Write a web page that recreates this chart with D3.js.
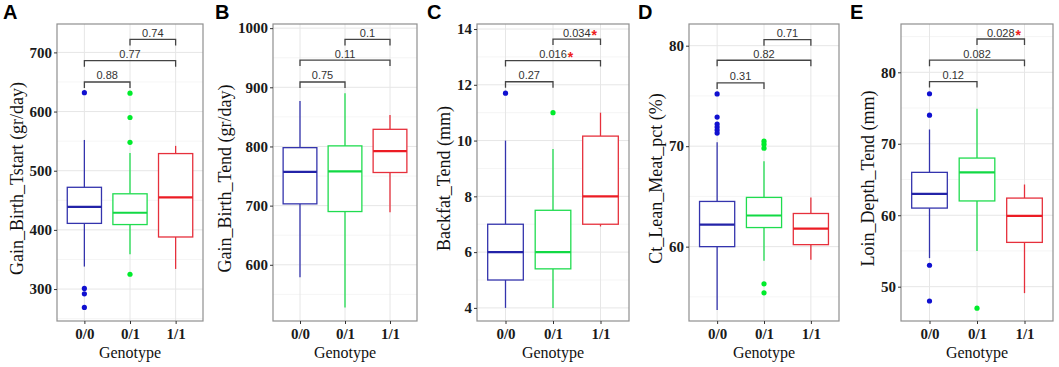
<!DOCTYPE html>
<html>
<head>
<meta charset="utf-8">
<script src="https://cdn.jsdelivr.net/npm/d3@7"></script>
<style>
  body { margin: 0; background: #fff; }
  svg { display: block; }
</style>
</head>
<body>
<div id="graphic"></div>
<script>
// data
const genotypes = ["0/0", "0/1", "1/1"];
const letters = ["A", "B", "C", "D", "E"];
const yTitles = ["Gain_Birth_Tstart (gr/day)", "Gain_Birth_Tend (gr/day)", "Backfat_Tend (mm)",
    "Ct_Lean_Meat_pct (%)", "Loin_Depth_Tend (mm)"];
const yTicks = [[300, 400, 500, 600, 700], [600, 700, 800, 900, 1000], [4, 6, 8, 10, 12, 14],
    [60, 70, 80], [50, 60, 70, 80]];
const yDomains = [[246, 748], [505, 1007], [3.53, 14.18], [52.6, 82.16], [45.2, 86.76]];

// [lower whisker, Q1, median, Q3, upper whisker] per genotype
const statsA = [[338, 411, 439, 472, 552], [359, 409, 429, 461, 530], [334, 388, 455, 529, 542]];
const statsB = [[579, 703, 757, 798, 877], [528, 690, 758, 801, 890], [689, 756, 792, 829, 853]];
const statsC = [[4.0, 5.0, 6.0, 7.0, 10.0], [4.0, 5.4, 6.0, 7.5, 9.7], [6.92, 7.0, 8.0, 10.16, 11.0]];
const statsD = [[53.7, 60.0, 62.2, 64.5, 70.4], [58.6, 61.9, 63.1, 64.9, 68.5], [58.7, 60.2, 61.8, 63.3, 64.9]];
const statsE = [[54, 61, 63, 66, 72], [55, 62, 66, 68, 74.9], [49.1, 56.2, 59.9, 62.4, 64.3]];

const outliersA = [[632, 301, 292, 269], [631, 590, 548, 325], []];
const outliersB = [[], [], []];
const outliersC = [[11.7], [11.0], []];
const outliersD = [[75.2, 72.9, 72.2, 71.9, 71.6, 71.3], [70.5, 70.2, 69.8, 56.3, 55.4], []];
const outliersE = [[77, 74, 53, 48], [47], []];

const comparisons = [[0, 1], [0, 2], [1, 2]];
const pLabels = [["0.88", "0.77", "0.74"], ["0.75", "0.11", "0.1"], ["0.27", "0.016", "0.034"],
    ["0.31", "0.82", "0.71"], ["0.12", "0.082", "0.028"]];
const bracketY = [[650, 686, 722], [909, 946, 981], [12.11, 12.87, 13.64],
    [76.3, 78.55, 80.6], [78.7, 81.7, 84.66]];

const allStats = [statsA, statsB, statsC, statsD, statsE];
const allOutliers = [outliersA, outliersB, outliersC, outliersD, outliersE];

// layout
const W = 1059, H = 367;
const panelX = [0, 212, 424, 635, 847];
const frameLeft = [57, 273, 477, 689, 901];
const frameRight = [203, 417, 629, 839, 1053];
const plotTop = 24, plotBottom = 321;

const boxColor = ["#3434ad", "#1fdc4f", "#e6303c"];
const medColor = ["#2323a8", "#12d944", "#ec1c24"];
const dotColor = ["#1010d0", "#00ec2c", "#ee1111"];

const serif = "'Liberation Serif', 'Times New Roman', serif";
const sans = "'Liberation Sans', Arial, sans-serif";

const svg = d3.select("#graphic")
    .append("svg")
    .attr("width", W)
    .attr("height", H);

allStats.forEach(function (stats, i) {
    const g = svg.append("g");
    const x = d3.scalePoint()
        .domain(genotypes)
        .range([frameLeft[i], frameRight[i]])
        .padding(0.6);
    const y = d3.scaleLinear()
        .domain(yDomains[i])
        .range([plotBottom, plotTop]);
    const boxW = x.step() * 0.75;

    // grid
    const ticks = yTicks[i];
    const half = (ticks[1] - ticks[0]) / 2;
    const minor = [ticks[0] - half].concat(ticks.map(t => t + half))
        .filter(v => v > yDomains[i][0] && v < yDomains[i][1]);
    g.selectAll(".minor").data(minor).join("line")
        .attr("x1", frameLeft[i]).attr("x2", frameRight[i])
        .attr("y1", d => y(d)).attr("y2", d => y(d))
        .attr("stroke", "#f3f3f3").attr("stroke-width", 0.8);
    g.selectAll(".major").data(ticks).join("line")
        .attr("x1", frameLeft[i]).attr("x2", frameRight[i])
        .attr("y1", d => y(d)).attr("y2", d => y(d))
        .attr("stroke", "#e6e6e6").attr("stroke-width", 1);
    g.selectAll(".vgrid").data(genotypes).join("line")
        .attr("x1", d => x(d)).attr("x2", d => x(d))
        .attr("y1", plotTop).attr("y2", plotBottom)
        .attr("stroke", "#e6e6e6").attr("stroke-width", 1);

    // boxes
    stats.forEach(function (s, j) {
        const cx = x(genotypes[j]);
        g.append("line")
            .attr("x1", cx).attr("x2", cx)
            .attr("y1", y(s[3])).attr("y2", y(s[4]))
            .attr("stroke", boxColor[j]).attr("stroke-width", 1.3);
        g.append("line")
            .attr("x1", cx).attr("x2", cx)
            .attr("y1", y(s[1])).attr("y2", y(s[0]))
            .attr("stroke", boxColor[j]).attr("stroke-width", 1.3);
        g.append("rect")
            .attr("x", cx - boxW / 2).attr("width", boxW)
            .attr("y", y(s[3])).attr("height", y(s[1]) - y(s[3]))
            .attr("fill", "white")
            .attr("stroke", boxColor[j]).attr("stroke-width", 1.3);
        g.append("line")
            .attr("x1", cx - boxW / 2).attr("x2", cx + boxW / 2)
            .attr("y1", y(s[2])).attr("y2", y(s[2]))
            .attr("stroke", medColor[j]).attr("stroke-width", 2.2);
        g.selectAll(null).data(allOutliers[i][j]).join("circle")
            .attr("cx", cx).attr("cy", d => y(d))
            .attr("r", 2.6)
            .attr("fill", dotColor[j]);
    });

    // frame
    g.append("rect")
        .attr("x", frameLeft[i]).attr("y", plotTop)
        .attr("width", frameRight[i] - frameLeft[i]).attr("height", plotBottom - plotTop)
        .attr("fill", "none").attr("stroke", "#8f8f8f").attr("stroke-width", 1.2);

    // axes
    const yAxis = g.append("g")
        .attr("transform", `translate(${frameLeft[i]},0)`)
        .call(d3.axisLeft(y).tickValues(ticks).tickFormat(d3.format("d")).tickSize(3).tickPadding(2));
    const xAxis = g.append("g")
        .attr("transform", `translate(0,${plotBottom})`)
        .call(d3.axisBottom(x).tickSize(3).tickPadding(4));
    [yAxis, xAxis].forEach(function (a) {
        a.select(".domain").remove();
        a.selectAll(".tick line").attr("stroke", "#333");
        a.selectAll("text")
            .style("font-family", serif)
            .style("font-weight", "bold")
            .style("font-size", "15px")
            .attr("fill", "#1a1a1a");
    });
    xAxis.selectAll("text").attr("dy", "0.75em");

    const labelLeft = yAxis.node().getBBox().x + frameLeft[i];
    g.append("text")
        .attr("transform", `translate(${labelLeft - 7},${(plotTop + plotBottom) / 2 + 6})rotate(-90)`)
        .attr("text-anchor", "middle")
        .style("font-family", serif)
        .style("font-size", "18px")
        .attr("fill", "#111")
        .text(yTitles[i]);

    g.append("text")
        .attr("x", (frameLeft[i] + frameRight[i]) / 2)
        .attr("y", 358)
        .attr("text-anchor", "middle")
        .style("font-family", serif)
        .style("font-size", "16px")
        .attr("fill", "#111")
        .text("Genotype");

    g.append("text")
        .attr("x", panelX[i] + 3)
        .attr("y", 19)
        .style("font-family", sans)
        .style("font-weight", "bold")
        .style("font-size", "20px")
        .attr("fill", "#000")
        .text(letters[i]);

    // comparison brackets
    comparisons.forEach(function (c, k) {
        const x1 = x(genotypes[c[0]]), x2 = x(genotypes[c[1]]);
        const yy = y(bracketY[i][k]);
        g.append("path")
            .attr("d", `M${x1},${yy + 6}V${yy}H${x2}V${yy + 6}`)
            .attr("fill", "none").attr("stroke", "#444").attr("stroke-width", 1.3);
        const lab = g.append("text")
            .attr("x", (x1 + x2) / 2)
            .attr("y", yy - 2.5)
            .attr("text-anchor", "middle")
            .style("font-family", sans)
            .style("font-size", "11px")
            .attr("fill", "#333")
            .text(pLabels[i][k]);
        if (+pLabels[i][k] < 0.05) {
            const bb = lab.node().getBBox();
            g.append("text")
                .attr("x", bb.x + bb.width + 1)
                .attr("y", yy + 1)
                .style("font-family", sans)
                .style("font-weight", "bold")
                .style("font-size", "14px")
                .attr("fill", "#ee2020")
                .text("*");
        }
    });
});
</script>
</body>
</html>
